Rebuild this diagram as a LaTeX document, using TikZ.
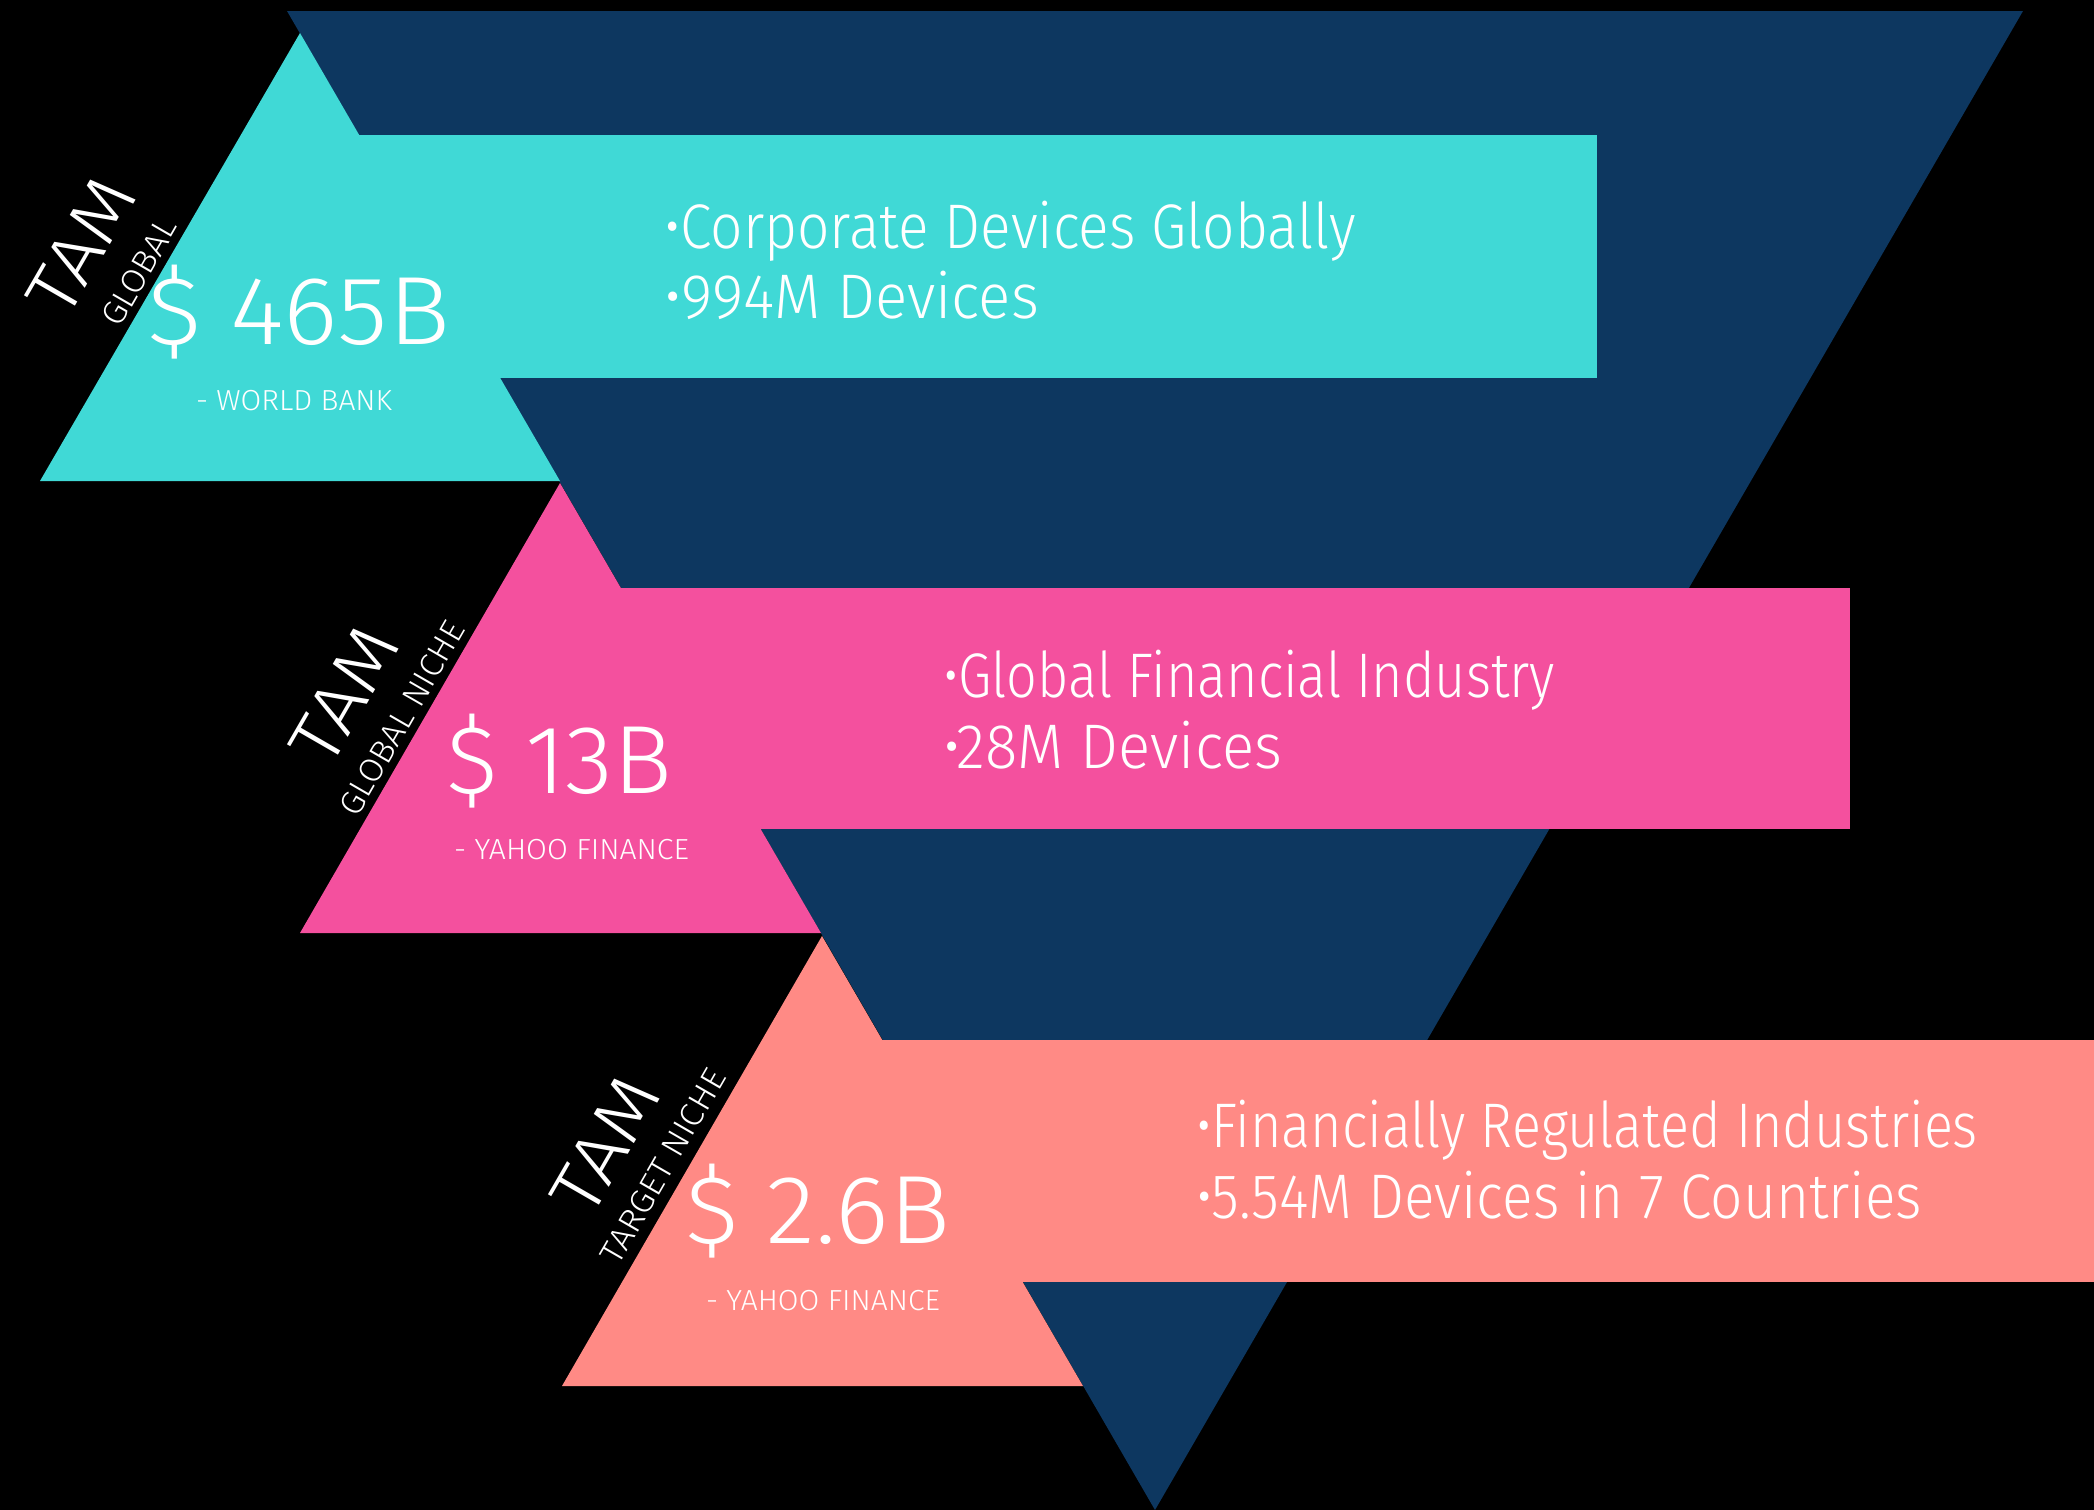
\documentclass[tikz,border=0pt]{standalone}
\usepackage{fontspec}
\setmainfont{Fira Sans Light}
\usepackage{graphicx}
\definecolor{navy}{RGB}{13,55,96}
\definecolor{cyanbar}{RGB}{64,217,214}
\definecolor{pinkbar}{RGB}{244,80,158}
\definecolor{salmonbar}{RGB}{255,138,133}
\newcommand{\fitw}[2]{\resizebox{#1}{\height}{#2}}
\begin{document}
\begin{tikzpicture}[x=1pt,y=-1pt,
  every node/.style={inner sep=0pt,outer sep=0pt,text=white},
  bullettext/.style={anchor=base west,font=\fontsize{63}{70}\selectfont},
  amount/.style={anchor=base west,font=\fontsize{97}{100}\selectfont},
  source/.style={anchor=base west,font=\fontsize{29}{32}\selectfont},
  tamlabel/.style={rotate=60,font=\fontsize{72}{75}\selectfont},
  sublabel/.style={rotate=60,font=\fontsize{33}{36}\selectfont}]
\fill[black] (0,0) rectangle (2094,1510);
\useasboundingbox (0,0) rectangle (2094,1510);
% funnel
\fill[navy] (287,11) -- (2023,11) -- (1155,1510) -- cycle;
% level 1
\fill[cyanbar] (300,135) rectangle (1597,378);
\fill[cyanbar] (300,33) -- (560,481) -- (40,481) -- cycle;
% level 2
\fill[pinkbar] (560,588) rectangle (1850,829);
\fill[pinkbar] (560,483) -- (821,933) -- (300,933) -- cycle;
% level 3
\fill[salmonbar] (822,1040) rectangle (2094,1282);
\fill[salmonbar] (822,936) -- (1083,1386) -- (562,1386) -- cycle;
% texts level 1
\node[bullettext] (c1) at (664,248) {\fitw{692pt}{•Corporate Devices Globally}};
\node[bullettext] (c2) at (664,318) {\fitw{375pt}{•994M Devices}};
\node[amount] (ca) at (147,344) {\fitw{303pt}{\$ 465B}};
\node[source] (cs) at (196,410) {\fitw{196pt}{- WORLD BANK}};
\node[tamlabel] (ct) at (81,246) {\fitw{145pt}{TAM}};
\node[sublabel] (cg) at (139,272) {\fitw{118pt}{GLOBAL}};
% texts level 2
\node[bullettext] (p1) at (943,697) {\fitw{612pt}{•Global Financial Industry}};
\node[bullettext] (p2) at (943,768) {\fitw{339pt}{•28M Devices}};
\node[amount] (pa) at (446,793) {\fitw{226pt}{\$ 13B}};
\node[source] (ps) at (454,859) {\fitw{235pt}{- YAHOO FINANCE}};
\node[tamlabel] (pt) at (344,695) {\fitw{145pt}{TAM}};
\node[sublabel] (pg) at (402,718) {\fitw{218pt}{GLOBAL NICHE}};
% texts level 3
\node[bullettext] (s1) at (1196,1147) {\fitw{782pt}{•Financially Regulated Industries}};
\node[bullettext] (s2) at (1196,1218) {\fitw{726pt}{•5.54M Devices in 7 Countries}};
\node[amount] (sa) at (685,1243) {\fitw{265pt}{\$ 2.6B}};
\node[source] (ss) at (706,1310) {\fitw{234pt}{- YAHOO FINANCE}};
\node[tamlabel] (st) at (605,1145) {\fitw{145pt}{TAM}};
\node[sublabel] (sg) at (663,1166) {\fitw{218pt}{TARGET NICHE}};
\end{tikzpicture}
\end{document}
